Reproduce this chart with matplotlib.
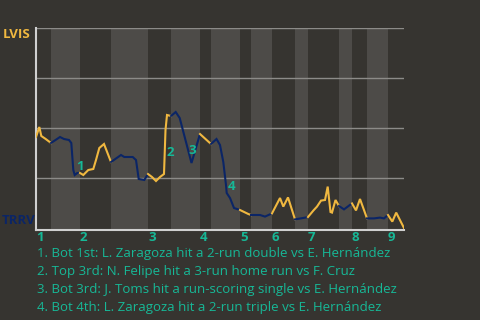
import matplotlib
matplotlib.use("Agg")
import matplotlib.pyplot as plt

# ---- data ----
# game progress position (arbitrary event units) and LVIS win probability (%)
progress = [0, 3.3, 5.3, 9.7, 15, 24, 28, 33, 35.3, 37.3, 38.7, 41.3, 44,
            47.3, 52.3, 57.3, 60, 63.3, 68, 75,
            85, 88.3, 96.7, 100, 102.7, 108.3, 112,
            116, 120, 124, 128, 129.5, 131, 135,
            139.7, 143.7, 155.5, 164,
            175,
            180.5, 184, 187.3, 190, 190.7, 194, 198, 204,
            212.3, 215,
            224, 229, 236,
            244, 247.3, 252, 259,
            269.3, 272,
            277.5, 281, 285, 289, 291.7, 294.5, 296, 299.5, 303,
            308, 316,
            320, 324, 331,
            338, 344, 348, 352,
            356.3, 360.2, 368]
lvis_wp = [45.5, 50.5, 46, 44.5, 42.5, 45.5, 44.5, 44, 42.5, 29, 26.5, 27.5, 27.5,
           26.5, 29, 29.5, 34, 40, 42, 33,
           36.5, 35.5, 35.5, 34, 24.5, 24, 27,
           25.5, 23.5, 25.5, 27, 49, 56.5, 56,
           58, 55, 32.5, 47,
           42,
           44.5, 41.5, 33, 21.5, 17.5, 15, 10, 9,
           7, 6.5,
           6.5, 5.7, 7.3,
           15, 10.7, 15.3, 4.3,
           5.2, 5.5,
           8.8, 10.7, 13.7, 14, 20.7, 8, 7.7, 14, 11,
           9.3, 12.3,
           8.8, 14.5, 4.8,
           4.8, 5.2, 4.8, 6.5,
           3.2, 7.7, 0]

# half-inning boundaries (progress units): top 1, bot 1, top 2, ...
half_bounds = [0, 15, 44, 75, 112, 135, 164, 175, 204, 215, 236, 259, 272,
               303, 316, 331, 352, 368]
inning_labels = ["1", "2", "3", "4", "5", "6", "7", "8", "9"]

# annotated key events: label, position, win prob
event_ids = ["1", "2", "3", "4"]
event_x = [40.5, 131, 152, 192]
event_y = [31, 38, 39, 21]
event_notes = [
    "1. Bot 1st: L. Zaragoza hit a 2-run double vs E. Hernández",
    "2. Top 3rd: N. Felipe hit a 3-run home run vs F. Cruz",
    "3. Bot 3rd: J. Toms hit a run-scoring single vs E. Hernández",
    "4. Bot 4th: L. Zaragoza hit a 2-run triple vs E. Hernández",
]
away_team = "LVIS"
home_team = "TRRV"

# ---- style ----
BG = "#363430"
BAND = "#4d4b48"
GRID = "#8c8b88"
AXIS = "#d0d0d0"
YELLOW = "#f0b840"
BLUE = "#0b2566"
TEAL = "#17b897"
FONT = ["Open Sans", "DejaVu Sans"]

fig = plt.figure(figsize=(4.8, 3.2), dpi=100, facecolor=BG)
ax = fig.add_axes([36 / 480, 1 - 230 / 320, 368 / 480, 202 / 320])
ax.set_facecolor(BG)
ax.set_xlim(half_bounds[0], half_bounds[-1])
ax.set_ylim(-1, 100)

# bottom half-inning bands
for i in range(1, len(half_bounds) - 1, 2):
    ax.axvspan(half_bounds[i], half_bounds[i + 1], color=BAND, lw=0, zorder=0)

for g in [25, 50, 75, 100]:
    ax.axhline(g, color=GRID, lw=1.0, zorder=1)

# line, coloured by half inning
for i in range(len(half_bounds) - 1):
    a, b = half_bounds[i], half_bounds[i + 1]
    xs = [x for x in progress if a <= x <= b]
    ys = [y for x, y in zip(progress, lvis_wp) if a <= x <= b]
    ax.plot(xs, ys, color=YELLOW if i % 2 == 0 else BLUE, lw=1.5,
            solid_joinstyle="miter", zorder=3)

for lab, x, y in zip(event_ids, event_x, event_y):
    ax.text(x, y, lab, color=TEAL, fontsize=9.5, fontweight="bold",
            family=FONT, ha="left", va="center", zorder=4)

for s in ["top", "right"]:
    ax.spines[s].set_visible(False)
for s in ["left", "bottom"]:
    ax.spines[s].set_color(AXIS)
    ax.spines[s].set_linewidth(1.5)
ax.set_yticks([])
inning_starts = half_bounds[0:-1:2]
ax.set_xticks(inning_starts)
ax.set_xticklabels(inning_labels, color=TEAL, fontsize=9.5, fontweight="bold",
                   family=FONT, ha="left")
ax.tick_params(axis="x", length=0, pad=1)

fig.text(3 / 480, 1 - 35 / 320, away_team, color=YELLOW, fontsize=9.5,
         fontweight="bold", family=FONT, va="center", ha="left")
fig.text(2 / 480, 1 - 221 / 320, home_team, color=BLUE, fontsize=9.5,
         fontweight="bold", family=FONT, va="center", ha="left")

for k, note in enumerate(event_notes):
    fig.text(37 / 480, 1 - (254 + 18 * k) / 320, note, color=TEAL,
             fontsize=9.5, family=FONT, va="center", ha="left")

fig.savefig("out.png", dpi=100, facecolor=BG)
